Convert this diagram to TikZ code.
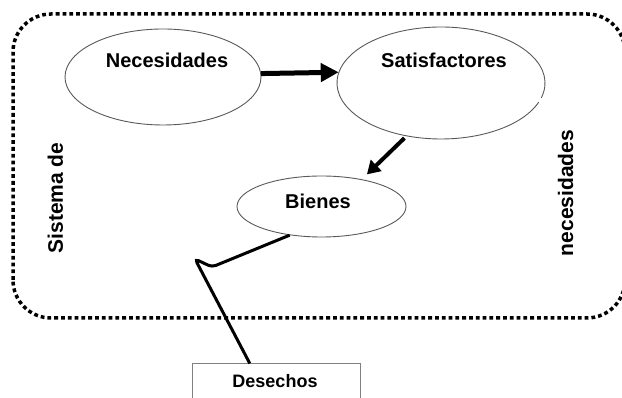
\documentclass[tikz,border=0pt]{standalone}
\usepackage{fontspec}
\setmainfont{Liberation Sans}
\usetikzlibrary{arrows.meta,shapes.geometric,calc}
\begin{document}
\begin{tikzpicture}[x=1pt,y=1pt,
  ell/.style={ellipse, draw=black!65, line width=0.9pt, inner sep=0pt},
  lbl/.style={font=\bfseries\fontsize{20}{24}\selectfont, anchor=base, inner sep=0pt},
  sidelbl/.style={font=\bfseries\fontsize{21}{25}\selectfont, anchor=base, inner sep=0pt, rotate=90},
  thickarrow/.style={line width=5pt, -{Triangle[length=18pt,width=18pt]}},
  midarrow/.style={line width=4pt, -{Triangle[length=13pt,width=15pt]}},
  hook/.style={line width=3pt, rounded corners=4pt},
  frame/.style={line width=3.5pt, dash pattern=on 3.8pt off 3pt, rounded corners=38pt}
]
\useasboundingbox (0,0) rectangle (622,398);
\clip (0,0) rectangle (622,398);
% outer dotted frame
\draw[frame] (13,80) rectangle (625,384);
% ellipses
\node[ell, minimum width=196pt, minimum height=96pt] (nec) at (163,321) {};
\node[ellipse, inner sep=0pt, minimum width=208pt, minimum height=112pt] (sat) at (441,315) {};
\draw[black!65, line width=0.9pt] (sat.center) ++({104*cos(-15.5)},{56*sin(-15.5)})
  arc[start angle=-15.5, end angle=340, x radius=104, y radius=56];
\node[ell, minimum width=169pt, minimum height=61pt] (bien) at (321.5,191.5) {};
% box
\node[draw=black!50, line width=1pt, minimum width=168pt, minimum height=40pt, inner sep=0pt] (des) at (276,14) {};
% labels
\node[lbl] (necT) at (167,330) {Necesidades};
\node[lbl] (satT) at (444,330) {Satisfactores};
\node[lbl] (bienT) at (318,189) {Bienes};
\node[lbl, font=\bfseries\fontsize{18}{22}\selectfont] (desT) at (275,10) {Desechos};
\node[sidelbl] (sis) at (63,200) {Sistema de};
\node[sidelbl] (necs) at (573,205) {necesidades};
% connectors
\draw[thickarrow] (nec.2) -- (sat.174.5);
\draw[midarrow, shorten <=3pt, shorten >=7pt] (sat.237) -- (bien.34);
\coordinate (h1) at (212,131);
\coordinate (h2) at (195,139);
\draw[hook] (bien.222) -- (h1) -- (h2) -- ($(des.north west)!0.345!(des.north east)$);
\end{tikzpicture}
\end{document}
